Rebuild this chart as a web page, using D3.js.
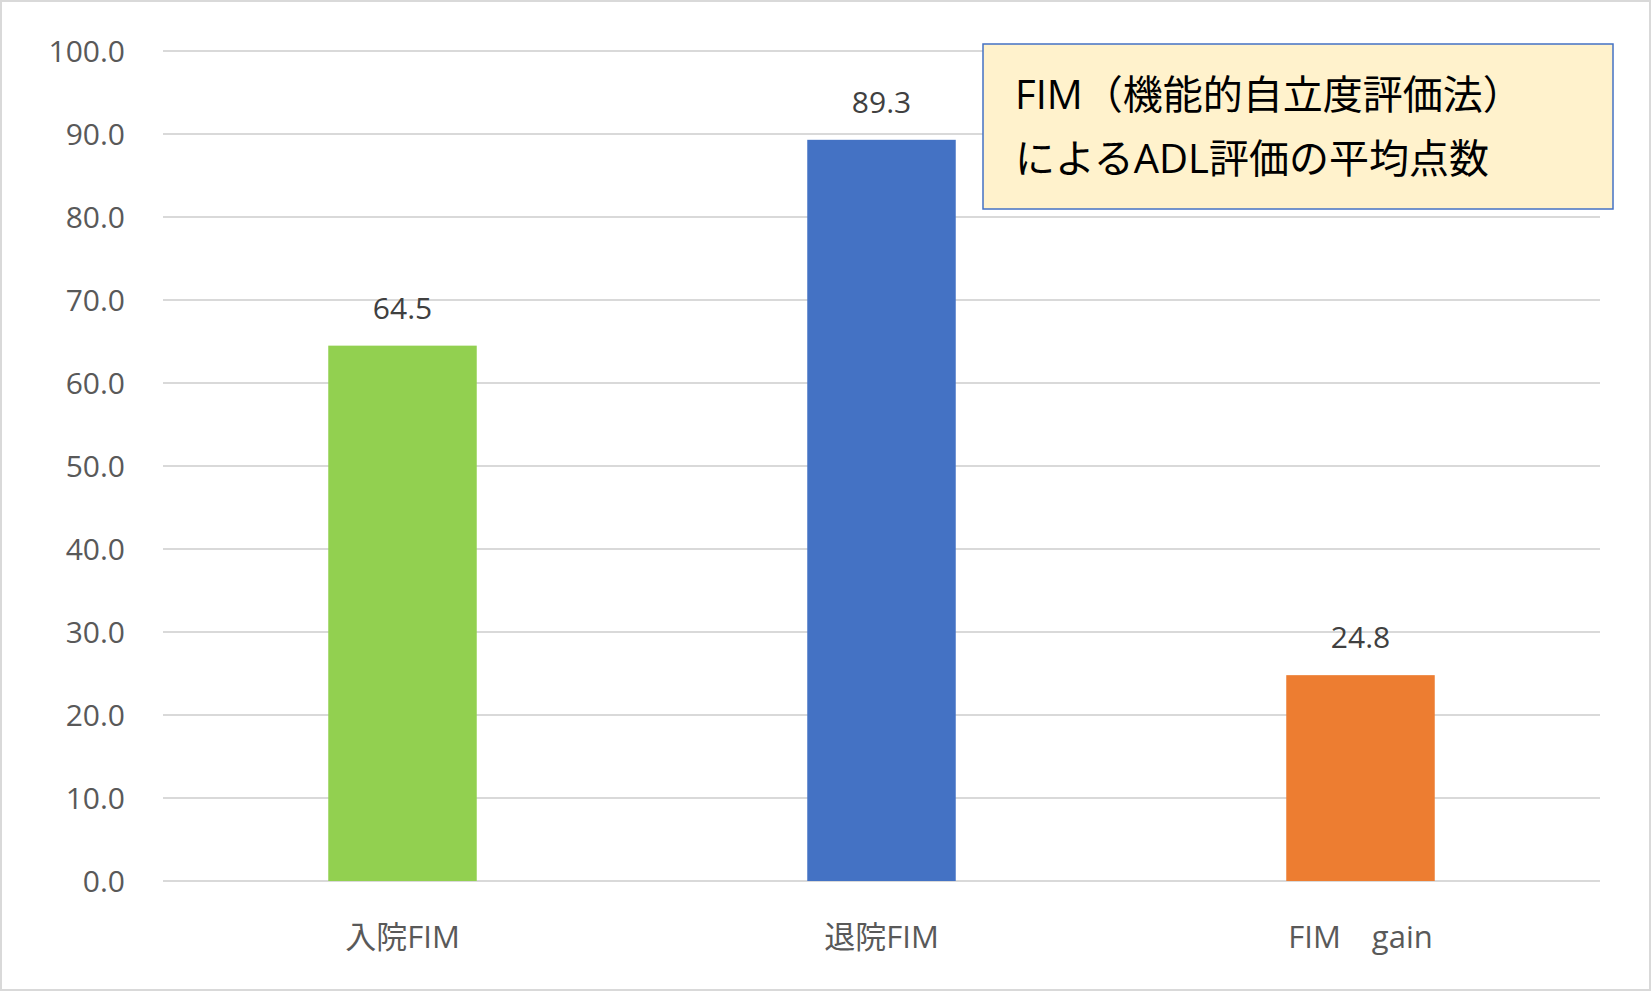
<!DOCTYPE html>
<html><head><meta charset="utf-8">
<script src="https://cdn.jsdelivr.net/npm/d3@7"></script>
<style>body{margin:0;background:#fff}text{font-family:"Open Sans","Noto Sans CJK JP",sans-serif}</style>
</head><body><div id="chart"></div>
<script>
const categories = ["入院FIM", "退院FIM", "FIM　gain"]
const values = [64.5, 89.3, 24.8]
const colors = ["#92D050", "#4472C4", "#ED7D31"]
const yTicks = [0, 10, 20, 30, 40, 50, 60, 70, 80, 90, 100]
const titleLines = ["FIM（機能的自立度評価法）", "によるADL評価の平均点数"]

const W = 1652, H = 992
const svg = d3.select("#chart").append("svg").attr("width", W).attr("height", H)
svg.append("rect").attr("x", 1).attr("y", 1).attr("width", W - 3).attr("height", H - 3)
    .attr("fill", "#fff").attr("stroke", "#d9d9d9").attr("stroke-width", 2)

const plotLeft = 163, plotRight = 1600, plotTop = 51, plotBottom = 881
const x = d3.scaleBand().domain(categories).range([plotLeft, plotRight]).paddingInner(0.69).paddingOuter(0.345)
const y = d3.scaleLinear().domain([0, 100]).range([plotBottom, plotTop])

// grid
svg.append("g").selectAll("line").data(yTicks).enter().append("line")
    .attr("x1", plotLeft).attr("x2", plotRight)
    .attr("y1", d => y(d)).attr("y2", d => y(d))
    .attr("stroke", "#d9d9d9").attr("stroke-width", 2)

// y labels
svg.append("g").selectAll("text").data(yTicks).enter().append("text")
    .attr("x", plotLeft - 38).attr("y", d => y(d) + 11)
    .attr("text-anchor", "end").attr("font-size", 30).attr("fill", "#595959")
    .text(d => d.toFixed(1))

// bars
svg.append("g").selectAll("rect").data(values).enter().append("rect")
    .attr("x", (d, i) => x(categories[i])).attr("width", x.bandwidth())
    .attr("y", d => y(d)).attr("height", d => y(0) - y(d))
    .attr("fill", (d, i) => colors[i])

// value labels
svg.append("g").selectAll("text").data(values).enter().append("text")
    .attr("x", (d, i) => x(categories[i]) + x.bandwidth() / 2)
    .attr("y", d => y(d) - 27)
    .attr("text-anchor", "middle").attr("font-size", 30).attr("fill", "#404040")
    .text(d => d.toFixed(1))

// x labels
svg.append("g").selectAll("text").data(categories).enter().append("text")
    .attr("x", d => x(d) + x.bandwidth() / 2).attr("y", 948)
    .attr("text-anchor", "middle").attr("font-size", 31).attr("fill", "#595959")
    .text(d => d)

// title box
svg.append("rect").attr("x", 983).attr("y", 44).attr("width", 630).attr("height", 165)
    .attr("fill", "#FFF2CC").attr("stroke", "#4472C4").attr("stroke-width", 1.5)
svg.append("g").selectAll("text").data(titleLines).enter().append("text")
    .attr("x", 1015).attr("y", (d, i) => 109 + i * 64)
    .attr("font-size", 40).attr("fill", "#000")
    .attr("font-family", "'Noto Sans CJK JP',sans-serif")
    .text(d => d)
</script></body></html>
